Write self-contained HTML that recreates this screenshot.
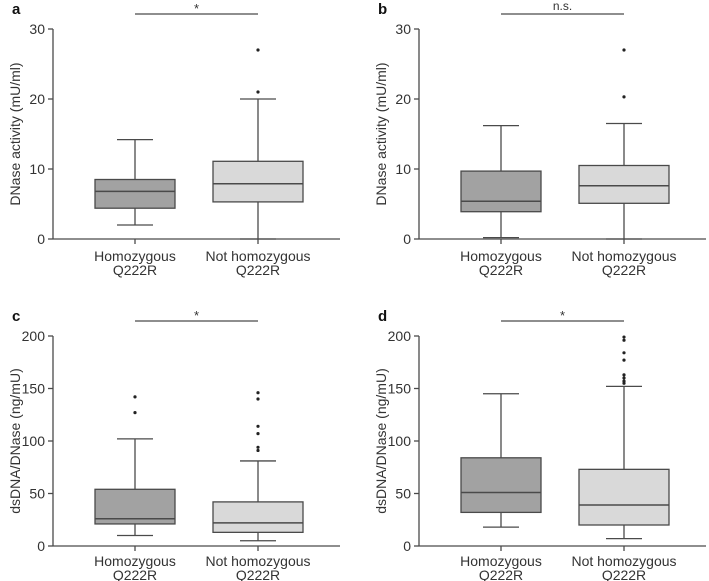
<!DOCTYPE html>
<html><head><meta charset="utf-8"><style>
html,body{margin:0;padding:0;background:#fff}
svg{display:block;font-family:"Liberation Sans",Arial,sans-serif}
</style></head><body>
<svg id="chart" width="709" height="581" viewBox="0 0 709 581"></svg>
<script>
const categories = ["Homozygous|Q222R", "Not homozygous|Q222R"];
const panelLetters = ["a","b","c","d"];
const panelTitles = ["DNase activity (mU/ml)","DNase activity (mU/ml)","dsDNA/DNase (ng/mU)","dsDNA/DNase (ng/mU)"];
const panelSig = ["*","n.s.","*","*"];
const panelMax = [30,30,200,200];
const tickA = [0,10,20,30];
const tickC = [0,50,100,150,200];
// [whiskerLow, q1, median, q3, whiskerHigh]
const statsA = [[2,4.4,6.8,8.5,14.2],[0,5.3,7.9,11.1,20]];
const statsB = [[0.2,3.9,5.4,9.7,16.2],[0,5.1,7.6,10.5,16.5]];
const statsC = [[10,21,26,54,102],[5,13,22,42,81]];
const statsD = [[18,32,51,84,145],[7,20,39,73,152]];
const outliersA = [[],[21,27]];
const outliersB = [[],[20.3,27]];
const outliersC = [[127,142],[91,94,107,114,140,146]];
const outliersD = [[],[155,157,160,163,177,184,196,199]];

const NS="http://www.w3.org/2000/svg";
const svg=document.getElementById('chart');
function mk(tag,attrs,parent){const e=document.createElementNS(NS,tag);for(const k in attrs)e.setAttribute(k,attrs[k]);(parent||svg).appendChild(e);return e;}
const panels=[
 {ox:0,oy:0,stats:statsA,out:outliersA,ticks:tickA,lab:261},
 {ox:366,oy:0,stats:statsB,out:outliersB,ticks:tickA,lab:261},
 {ox:0,oy:307,stats:statsC,out:outliersC,ticks:tickC,lab:259},
 {ox:366,oy:307,stats:statsD,out:outliersD,ticks:tickC,lab:259}
];
const fills=["#a2a2a2","#d9d9d9"];
const LC="#4a4a4a";
panels.forEach((p,i)=>{
  const g=mk('g',{transform:`translate(${p.ox},${p.oy})`});
  
  
  const ax=53,y0=239,yTop=29,xEnd=340;
  const y=v=>y0-(v/panelMax[i])*(y0-yTop);
  const cx=[135,258];
  const lt=mk('text',{x:12,y:14,'font-size':15,'font-weight':'bold',fill:'#111'},g);lt.textContent=panelLetters[i];
  
  const ya=mk('line',{x1:ax,y1:yTop,x2:ax,y2:y0,stroke:LC,'stroke-width':1.3},g);
  
  const xa=mk('line',{x1:ax,y1:y0,x2:xEnd,y2:y0,stroke:LC,'stroke-width':1.3},g);
  
  p.ticks.forEach(t=>{
    mk('line',{x1:ax-5,y1:y(t),x2:ax,y2:y(t),stroke:LC,'stroke-width':1.3},g);
    const tt=mk('text',{x:ax-8,y:y(t)+5,'font-size':14,'text-anchor':'end',fill:'#333'},g);tt.textContent=t;
    
  });
  const yt=mk('text',{x:0,y:0,'font-size':14,'text-anchor':'middle',fill:'#333',transform:`translate(20,${(y0+yTop)/2}) rotate(-90)`},g);
  yt.textContent=panelTitles[i];
  
  categories.forEach((c,j)=>{
    mk('line',{x1:cx[j],y1:y0,x2:cx[j],y2:y0+5,stroke:LC,'stroke-width':1.3},g);
    const parts=c.split('|');
    parts.forEach((s,k)=>{
      const t=mk('text',{x:cx[j],y:p.lab+k*14,'font-size':14,'text-anchor':'middle',fill:'#333'},g);t.textContent=s;
      
    });
    const s=p.stats[j];const hw=j===0?40:45,cw=18;
    const bg=mk('g',{},g);
    
    
    mk('line',{x1:cx[j],y1:y(s[0]),x2:cx[j],y2:y(s[4]),stroke:LC,'stroke-width':1.3},bg);
    mk('line',{x1:cx[j]-cw,y1:y(s[0]),x2:cx[j]+cw,y2:y(s[0]),stroke:LC,'stroke-width':1.3},bg);
    mk('line',{x1:cx[j]-cw,y1:y(s[4]),x2:cx[j]+cw,y2:y(s[4]),stroke:LC,'stroke-width':1.3},bg);
    mk('rect',{x:cx[j]-hw,y:y(s[3]),width:2*hw,height:y(s[1])-y(s[3]),fill:fills[j],stroke:LC,'stroke-width':1.3},bg);
    mk('line',{x1:cx[j]-hw,y1:y(s[2]),x2:cx[j]+hw,y2:y(s[2]),stroke:LC,'stroke-width':1.5},bg);
    p.out[j].forEach(o=>{
      const d=mk('circle',{cx:cx[j],cy:y(o),r:1.6,fill:'#222'},g);
      
    });
  });
  const sb=mk('line',{x1:cx[0],y1:14,x2:cx[1],y2:14,stroke:LC,'stroke-width':1.2},g);
  
  const st=mk('text',{x:(cx[0]+cx[1])/2,y:panelSig[i]==='*'?13:10,'font-size':panelSig[i]==='*'?13:12,'text-anchor':'middle',fill:'#333'},g);
  st.textContent=panelSig[i];
  
});
</script>
</body></html>
